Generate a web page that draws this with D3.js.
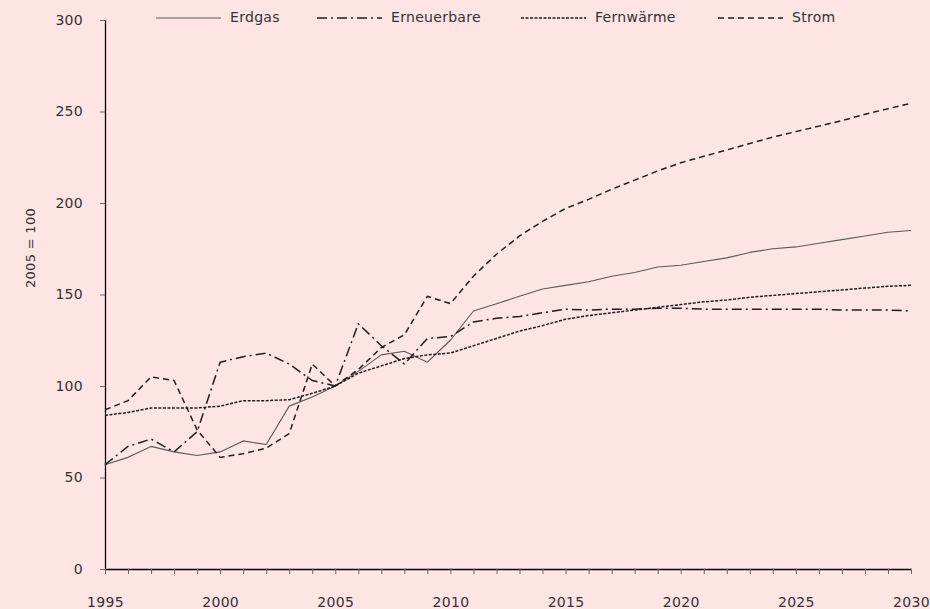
<!DOCTYPE html>
<head>
<meta charset="utf-8">
<title>Index 2005 = 100</title>
<style>
  body { margin: 0; background: #ffe4e4; }
  svg { display: block; }
  text { font-family: "DejaVu Sans", sans-serif; fill: #333; letter-spacing: 0.3px; }
</style>
</head>
<div id="container"></div>
<script src="https://d3js.org/d3.v7.min.js"></script>
<script>
// Data (index, 2005 = 100).
const years = [1995, 1996, 1997, 1998, 1999, 2000, 2001, 2002, 2003, 2004,
               2005, 2006, 2007, 2008, 2009, 2010, 2011, 2012, 2013, 2014,
               2015, 2016, 2017, 2018, 2019, 2020, 2021, 2022, 2023, 2024,
               2025, 2026, 2027, 2028, 2029, 2030];
const erdgas = [57, 61, 67, 64, 62, 64, 70, 68, 89, 94,
                100, 108, 117, 119, 113, 125, 141, 145, 149, 153,
                155, 157, 160, 162, 165, 166, 168, 170, 173, 175,
                176, 178, 180, 182, 184, 185];
const erneuerbare = [57, 67, 71, 64, 75, 113, 116, 118, 112, 103,
                     100, 134, 122, 112, 126, 127, 135, 137, 138, 140,
                     142, 141.5, 142, 142, 142.5, 142.5, 142, 142, 142, 142,
                     142, 142, 141.5, 141.5, 141.5, 141];
const fernwaerme = [84, 85.5, 88, 88, 88, 89, 92, 92, 92.5, 96,
                    100, 107, 111, 115, 117, 118, 122, 126, 130, 133,
                    136.5, 138.5, 140, 141.5, 143, 144.5, 146, 147, 148.5, 149.5,
                    150.5, 151.5, 152.5, 153.5, 154.5, 155];
const strom = [87, 92, 105, 103, 76, 61, 63, 66, 74, 112,
               100, 109, 121, 128, 149, 145, 160, 172, 182, 190,
               197, 202, 207.5, 212.5, 217.5, 222, 225.5, 229, 232.5, 236,
               239, 242, 245, 248.5, 251.5, 254.5];
const seriesNames = ["Erdgas", "Erneuerbare", "Fernwärme", "Strom"];
const xLabels = [1995, 2000, 2005, 2010, 2015, 2020, 2025, 2030];
const yTicks = [0, 50, 100, 150, 200, 250, 300];

// Chart dimensions and margins.
const width = 930;
const height = 609;
const marginTop = 20;
const marginRight = 19;
const marginBottom = 40;
const marginLeft = 105;

// Line styles per series.
const styles = {
    "Erdgas":      { stroke: "#5a5a5a", width: 1.1, dash: null },
    "Erneuerbare": { stroke: "#1e1e1e", width: 1.5, dash: "10,4,2,4" },
    "Fernwärme":   { stroke: "#1e1e1e", width: 1.5, dash: "3,1.5" },
    "Strom":       { stroke: "#1e1e1e", width: 1.5, dash: "6,4" }
};
const values = [erdgas, erneuerbare, fernwaerme, strom];
const series = seriesNames.map((name, k) => ({
    name,
    points: years.map((yr, i) => ({ year: yr, value: values[k][i] }))
}));

const x = d3.scaleLinear()
    .domain([1995, 2030])
    .range([marginLeft, width - marginRight]);

const y = d3.scaleLinear()
    .domain([0, 300])
    .range([height - marginBottom, marginTop]);

const line = d3.line()
    .x(d => x(d.year))
    .y(d => y(d.value));

const svg = d3.create("svg")
    .attr("width", width)
    .attr("height", height);

svg.append("rect")
    .attr("width", width)
    .attr("height", height)
    .attr("fill", "#ffe4e4");

// x-axis: a tick per year, labels every five years.
const xAxis = svg.append("g")
    .attr("transform", `translate(0,${height - marginBottom})`)
    .call(d3.axisBottom(x)
        .tickValues(years)
        .tickSize(5)
        .tickSizeOuter(0)
        .tickPadding(23)
        .tickFormat(d => xLabels.includes(d) ? d : ""));
xAxis.select(".domain").attr("stroke", "#000").attr("stroke-width", 1.3);
xAxis.selectAll(".tick line").attr("stroke", "#666");
xAxis.selectAll("text").attr("font-size", 14).attr("fill", "#333");

// y-axis.
const yAxis = svg.append("g")
    .attr("transform", `translate(${marginLeft},0)`)
    .call(d3.axisLeft(y)
        .tickValues(yTicks)
        .tickSize(5)
        .tickSizeOuter(0)
        .tickPadding(17));
yAxis.select(".domain").attr("stroke", "#000").attr("stroke-width", 1.3);
yAxis.selectAll(".tick line").attr("stroke", "#666");
yAxis.selectAll("text").attr("font-size", 14).attr("fill", "#333");

// y-axis title.
svg.append("text")
    .attr("transform", "translate(31,248) rotate(-90)")
    .attr("text-anchor", "middle")
    .attr("dominant-baseline", "middle")
    .attr("font-size", 13)
    .text("2005 = 100");

// The four series.
svg.append("g")
    .selectAll("path")
    .data(series)
    .join("path")
    .attr("fill", "none")
    .attr("stroke", d => styles[d.name].stroke)
    .attr("stroke-width", d => styles[d.name].width)
    .attr("stroke-dasharray", d => styles[d.name].dash)
    .attr("stroke-linejoin", "round")
    .attr("d", d => line(d.points));

// Legend along the top.
const legendX = [156, 317, 521, 718];
const legend = svg.append("g")
    .selectAll("g")
    .data(seriesNames)
    .join("g")
    .attr("transform", (d, i) => `translate(${legendX[i]},18)`);

legend.append("line")
    .attr("x1", 0)
    .attr("x2", 65)
    .attr("stroke", d => styles[d].stroke)
    .attr("stroke-width", d => styles[d].width)
    .attr("stroke-dasharray", d => styles[d].dash);

legend.append("text")
    .attr("x", 74)
    .attr("dominant-baseline", "middle")
    .attr("font-size", 14)
    .text(d => d);

container.append(svg.node());
</script>
